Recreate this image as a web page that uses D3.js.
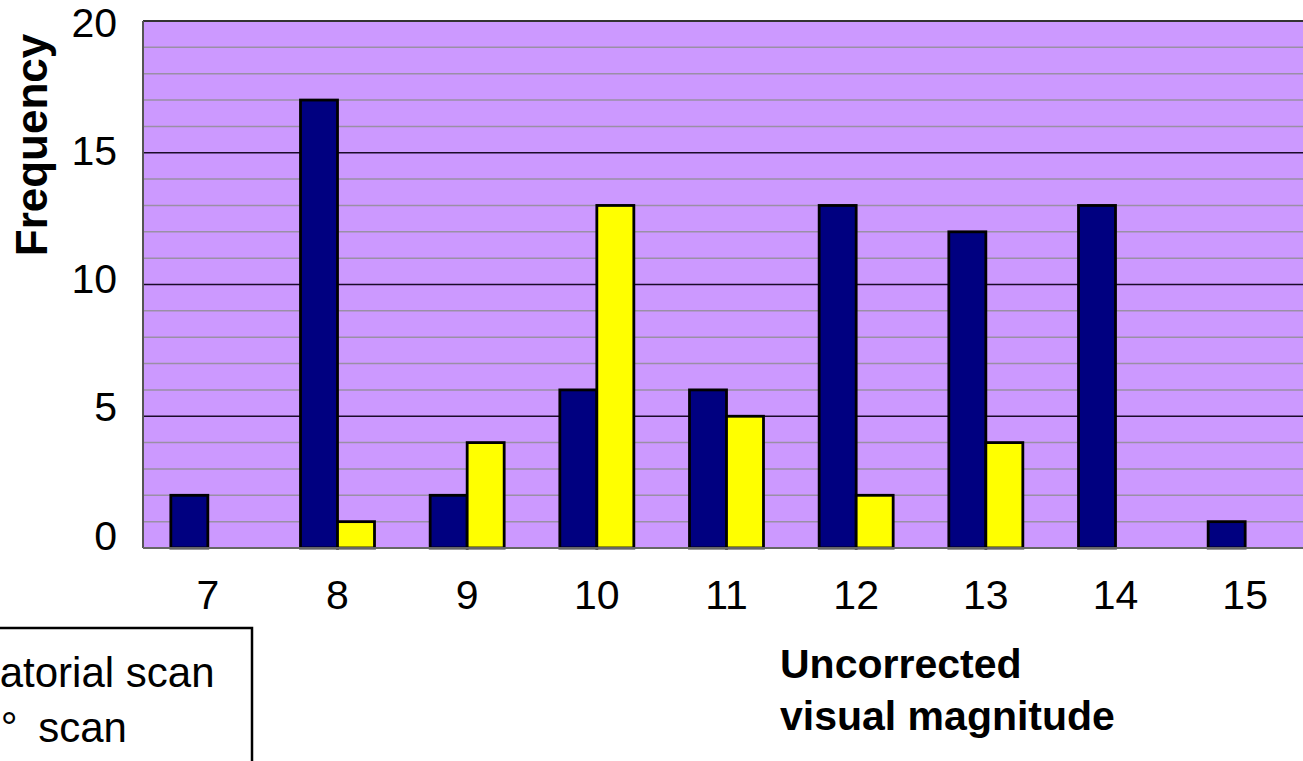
<!DOCTYPE html>
<html>
<head>
<meta charset="utf-8">
<script src="https://cdn.jsdelivr.net/npm/d3@7/dist/d3.min.js"></script>
<style>
  html, body { margin: 0; padding: 0; background: #fff; overflow: hidden; }
  svg { display: block; font-family: "Liberation Sans", Arial, sans-serif; }
</style>
</head>
<body>
<svg id="chart" width="1303" height="761"></svg>
<script>
// Magnitude bins and star counts per survey scan
const categories = ["7", "8", "9", "10", "11", "12", "13", "14", "15"];
const equatorialScan = [2, 17, 2, 6, 6, 13, 12, 13, 1];
const secondScan = [0, 1, 4, 13, 5, 2, 4, 0, 0];
const seriesNames = ["Equatorial scan", "45° scan"];
const seriesColors = ["#000080", "#FFFF00"];
const yTickValues = [0, 5, 10, 15, 20];
const yMinorValues = d3.range(1, 20).filter(v => v % 5 !== 0);

const svg = d3.select("#chart");
const plot = { left: 143, right: 1310, top: 21, bottom: 548 };

const x = d3.scaleBand().domain(categories).range([plot.left, plot.right]).padding(0);
const y = d3.scaleLinear().domain([0, 20]).range([plot.bottom, plot.top]);
// label positions of the value axis sit slightly off the grid
const yLabel = d3.scaleLinear().domain([0, 20]).range([536, 23]);
const groupWidth = 74;
const x1 = d3.scaleBand().domain([0, 1]).range([-groupWidth / 2, groupWidth / 2]);

// plot background
svg.append("rect")
  .attr("x", plot.left).attr("y", plot.top)
  .attr("width", plot.right - plot.left).attr("height", plot.bottom - plot.top)
  .attr("fill", "#CC99FF");

// minor gridlines
svg.append("g").selectAll("line").data(yMinorValues).join("line")
  .attr("x1", plot.left).attr("x2", plot.right)
  .attr("y1", d => y(d)).attr("y2", d => y(d))
  .attr("stroke", "#9a8fa6").attr("stroke-width", 1.5);

// major gridlines
svg.append("g").selectAll("line").data(yTickValues.filter(v => v > 0)).join("line")
  .attr("x1", plot.left).attr("x2", plot.right)
  .attr("y1", d => y(d)).attr("y2", d => y(d))
  .attr("stroke", d => d === 20 ? "#333" : "#1a0a2a")
  .attr("stroke-width", d => d === 20 ? 2.2 : 1.5);

// bars
const rows = categories.map((c, i) => ({ c, values: [equatorialScan[i], secondScan[i]] }));
svg.append("g").selectAll("g").data(rows).join("g")
  .attr("transform", d => `translate(${x(d.c) + x.bandwidth() / 2},0)`)
  .selectAll("rect")
  .data(d => d.values.map((v, s) => ({ v, s })).filter(e => e.v > 0))
  .join("rect")
  .attr("x", d => x1(d.s))
  .attr("width", x1.bandwidth())
  .attr("y", d => y(d.v))
  .attr("height", d => y(0) - y(d.v))
  .attr("fill", d => seriesColors[d.s])
  .attr("stroke", "#000").attr("stroke-width", 2.8);

// axis lines
svg.append("line")
  .attr("x1", plot.left).attr("x2", plot.left)
  .attr("y1", plot.top).attr("y2", plot.bottom)
  .attr("stroke", "#555").attr("stroke-width", 2);
svg.append("line")
  .attr("x1", plot.left).attr("x2", plot.right)
  .attr("y1", plot.bottom).attr("y2", plot.bottom)
  .attr("stroke", "#666").attr("stroke-width", 2);

// value axis labels
const yAxis = svg.append("g")
  .attr("transform", `translate(${plot.left},0)`)
  .call(d3.axisLeft(yLabel).tickValues(yTickValues).tickSize(0).tickPadding(26).tickFormat(d3.format("d")));
yAxis.select(".domain").remove();
yAxis.selectAll("text")
  .attr("font-size", 41).attr("fill", "#000")
  .attr("font-family", "Liberation Sans, Arial, sans-serif");

// category axis labels
const xAxis = svg.append("g")
  .attr("transform", `translate(0,${plot.bottom})`)
  .call(d3.axisBottom(x).tickSize(0).tickPadding(0));
xAxis.select(".domain").remove();
xAxis.selectAll("text")
  .attr("dy", 0).attr("y", 61)
  .attr("font-size", 41).attr("fill", "#000")
  .attr("font-family", "Liberation Sans, Arial, sans-serif");

// axis titles
svg.append("text")
  .attr("transform", "translate(47,145) rotate(-90)")
  .attr("text-anchor", "middle")
  .attr("font-size", 44).attr("font-weight", "bold")
  .text("Frequency");
const xTitle = svg.append("text")
  .attr("x", 780).attr("y", 678)
  .attr("font-size", 41).attr("font-weight", "bold");
xTitle.append("tspan").attr("x", 780).attr("y", 678).text("Uncorrected");
xTitle.append("tspan").attr("x", 780).attr("y", 730).text("visual magnitude");

// legend
const legend = svg.append("g");
legend.append("rect")
  .attr("x", -160).attr("y", 628)
  .attr("width", 412).attr("height", 200)
  .attr("fill", "#fff").attr("stroke", "#000").attr("stroke-width", 2.5);
const legendRows = legend.selectAll("g").data(seriesNames).join("g")
  .attr("transform", (d, i) => `translate(0,${687 + i * 55})`);
legendRows.append("rect")
  .attr("x", -130).attr("y", -26).attr("width", 26).attr("height", 26)
  .attr("fill", (d, i) => seriesColors[i]).attr("stroke", "#000").attr("stroke-width", 2);
legendRows.append("text")
  .attr("x", (d, i) => i === 0 ? -75 : -46)
  .attr("font-size", 42)
  .attr("word-spacing", (d, i) => i === 0 ? 0 : 9)
  .text(d => d);
</script>
</body>
</html>
